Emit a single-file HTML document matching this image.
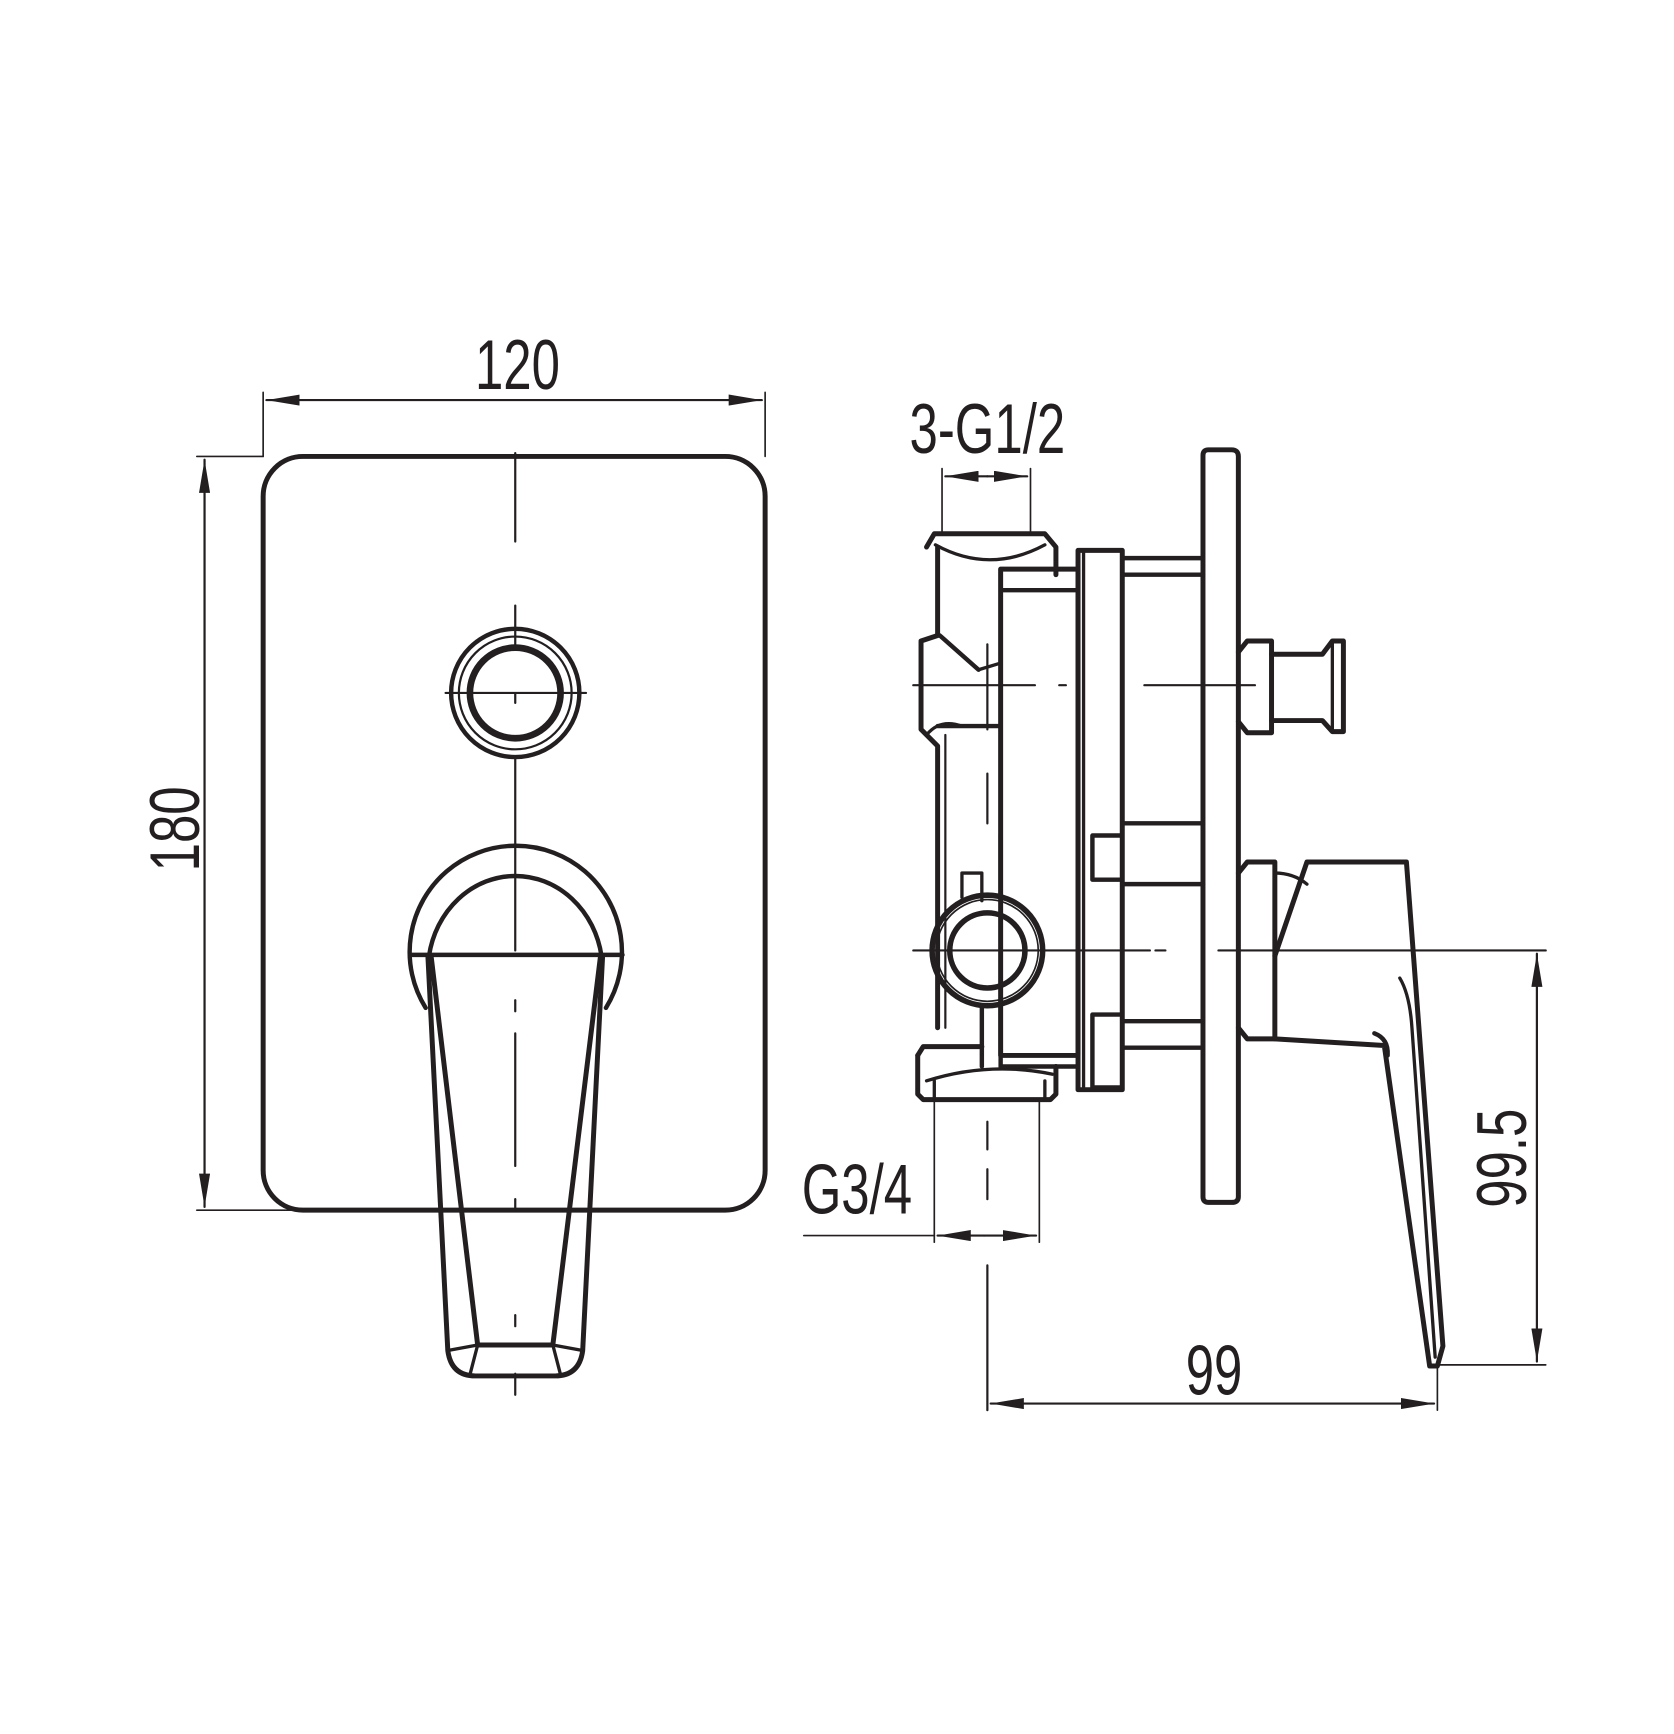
<!DOCTYPE html>
<html><head><style>
html,body{margin:0;padding:0;background:#fff;}
svg{display:block;}
text{font-family:"Liberation Sans",sans-serif;fill:#231f20;}
</style></head><body>
<svg width="1674" height="1734" viewBox="0 0 1514 1569" preserveAspectRatio="none" xmlns="http://www.w3.org/2000/svg">
<defs>
<marker id="a" viewBox="0 0 30 10" refX="30" refY="5" markerWidth="30" markerHeight="10" markerUnits="userSpaceOnUse" orient="auto-start-reverse"><path d="M0,0 L30,5 L0,10 Z" fill="#231f20"/></marker>
</defs>
<g stroke="#231f20" fill="none" stroke-linecap="round" stroke-linejoin="round">
<rect x="238" y="413" width="454" height="682" rx="36" stroke-width="4.5"/>
<line x1="238" y1="355" x2="238" y2="413" stroke-width="1.5"/>
<line x1="692" y1="355" x2="692" y2="413" stroke-width="1.5"/>
<line x1="241" y1="362" x2="689" y2="362" stroke-width="2" marker-start="url(#a)" marker-end="url(#a)"/>
<line x1="178" y1="413" x2="238" y2="413" stroke-width="1.5"/>
<line x1="178" y1="1095" x2="400" y2="1095" stroke-width="1.5"/>
<line x1="185" y1="416" x2="185" y2="1092" stroke-width="2" marker-start="url(#a)" marker-end="url(#a)"/>
<line x1="466" y1="410" x2="466" y2="490" stroke-width="2"/>
<line x1="466" y1="548" x2="466" y2="587" stroke-width="2"/>
<line x1="466" y1="628" x2="466" y2="636" stroke-width="2"/>
<line x1="466" y1="685" x2="466" y2="860" stroke-width="2"/>
<line x1="466" y1="905" x2="466" y2="915" stroke-width="2"/>
<line x1="466" y1="935" x2="466" y2="1055" stroke-width="2"/>
<line x1="466" y1="1085" x2="466" y2="1095" stroke-width="2"/>
<line x1="466" y1="1190" x2="466" y2="1200" stroke-width="2"/>
<line x1="466" y1="1243" x2="466" y2="1262" stroke-width="2"/>
<circle cx="466" cy="627" r="58" stroke-width="4"/>
<circle cx="466" cy="627" r="51" stroke-width="2"/>
<circle cx="466" cy="627" r="41" stroke-width="6"/>
<line x1="403" y1="627" x2="530" y2="627" stroke-width="2"/>
<path d="M385,912 A96,96 0 1 1 548,912" stroke-width="4"/>
<path d="M388,865 A79,86 0 0 1 544,865" stroke-width="4"/>
<line x1="372" y1="864" x2="563" y2="864" stroke-width="4"/>
<path d="M387,865 L405,1222 Q408,1245 430,1245 L502,1245 Q524,1245 527,1222 L545,865" stroke-width="4.5"/>
<path d="M390,866 L432,1217 L500,1217 L543,866" stroke-width="4.5"/>
<path d="M405,1222 L432,1217 L425,1244 M527,1222 L500,1217 L507,1244" stroke-width="3"/>

<path d="M1088,412 Q1088,407 1093,407 L1114,407 Q1120,407 1120,413 L1120,1083 Q1120,1088 1114,1088 L1093,1088 Q1088,1088 1088,1083 Z" stroke-width="4.5"/>
<rect x="975" y="498" width="40" height="488" stroke-width="4.5"/>
<line x1="980" y1="498" x2="980" y2="986" stroke-width="3"/>
<rect x="905" y="515" width="70" height="440" stroke-width="4.5"/>
<line x1="905" y1="534" x2="975" y2="534" stroke-width="4"/>
<line x1="1015" y1="505" x2="1088" y2="505" stroke-width="4"/>
<line x1="1015" y1="520" x2="1088" y2="520" stroke-width="4"/>
<line x1="1015" y1="745" x2="1088" y2="745" stroke-width="4"/>
<line x1="1015" y1="800" x2="1088" y2="800" stroke-width="4"/>
<line x1="1015" y1="924" x2="1088" y2="924" stroke-width="4"/>
<line x1="1015" y1="948" x2="1088" y2="948" stroke-width="4"/>
<rect x="988" y="756" width="27" height="40" stroke-width="4"/>
<rect x="988" y="918" width="27" height="66" stroke-width="4"/>
<path d="M838,495 L845,483 L945,483 L955,495 L955,520" stroke-width="4.5"/>
<path d="M846,493 Q895,520 945,493" stroke-width="3"/>
<line x1="848" y1="495" x2="848" y2="575" stroke-width="4.5"/>
<path d="M848,575 L833,580 L833,660 L848,675 L848,930" stroke-width="4.5"/>
<line x1="850" y1="575" x2="885" y2="606" stroke-width="4"/>
<line x1="885" y1="606" x2="905" y2="600" stroke-width="3"/>
<line x1="848" y1="657" x2="905" y2="657" stroke-width="4"/>
<path d="M838,665 Q850,650 870,657" stroke-width="3"/>
<line x1="855" y1="665" x2="855" y2="930" stroke-width="2"/>
<circle cx="893" cy="860" r="50" stroke-width="5"/>
<circle cx="893" cy="860" r="46" stroke-width="1.5"/>
<circle cx="893" cy="860" r="34" stroke-width="5"/>
<path d="M870,812 L870,790 L888,790 L888,815" stroke-width="3"/>
<line x1="905" y1="755" x2="905" y2="815" stroke-width="4"/>
<line x1="888" y1="910" x2="888" y2="965" stroke-width="4"/>
<line x1="905" y1="905" x2="905" y2="965" stroke-width="4"/>
<path d="M830,955 L835,947 L888,947" stroke-width="4.5"/>
<path d="M830,955 L830,990 L835,995 L950,995 L955,990 L955,965" stroke-width="4.5"/>
<path d="M838,978 Q895,960 952,972" stroke-width="3"/>
<line x1="845" y1="978" x2="845" y2="995" stroke-width="3"/>
<line x1="945" y1="978" x2="945" y2="995" stroke-width="3"/>
<line x1="905" y1="965" x2="975" y2="965" stroke-width="4"/>
<path d="M1120,590 L1128,580 L1150,580 L1150,663 L1128,663 L1120,653" stroke-width="4.5"/>
<path d="M1150,592 L1196,592 L1205,580 L1215,580 L1215,662 L1205,662 L1196,652 L1150,652" stroke-width="4.5"/>
<line x1="1205" y1="580" x2="1205" y2="662" stroke-width="3"/>
<path d="M1120,790 L1128,780 L1153,780 L1153,940 L1128,940 L1120,930" stroke-width="4.5"/>
<path d="M1153,790 Q1170,790 1182,800" stroke-width="3"/>
<path d="M1153,865 L1182,780 L1272,780 L1305,1218 L1300,1236 L1293,1236 L1252,946 L1153,940" stroke-width="4.5"/>
<path d="M1266,885 Q1275,900 1277,930 L1298,1228" stroke-width="3"/>
<path d="M1243,935 Q1256,940 1255,955" stroke-width="4"/>
<line x1="826" y1="620" x2="936" y2="620" stroke-width="2"/>
<line x1="958" y1="620" x2="964" y2="620" stroke-width="2"/>
<line x1="1035" y1="620" x2="1135" y2="620" stroke-width="2"/>
<line x1="826" y1="860" x2="1040" y2="860" stroke-width="2"/>
<line x1="1045" y1="860" x2="1054" y2="860" stroke-width="2"/>
<line x1="1102" y1="860" x2="1398" y2="860" stroke-width="2"/>
<line x1="893" y1="583" x2="893" y2="660" stroke-width="2"/>
<line x1="893" y1="700" x2="893" y2="745" stroke-width="2"/>
<line x1="893" y1="1015" x2="893" y2="1040" stroke-width="2"/>
<line x1="893" y1="1058" x2="893" y2="1085" stroke-width="2"/>
<line x1="893" y1="1145" x2="893" y2="1276" stroke-width="2"/>
<line x1="852" y1="424" x2="852" y2="483" stroke-width="1.5"/>
<line x1="932" y1="424" x2="932" y2="483" stroke-width="1.5"/>
<line x1="855" y1="431" x2="893" y2="431" stroke-width="2" marker-start="url(#a)"/>
<line x1="893" y1="431" x2="929" y2="431" stroke-width="2" marker-end="url(#a)"/>
<line x1="845" y1="997" x2="845" y2="1124" stroke-width="1.5"/>
<line x1="940" y1="997" x2="940" y2="1124" stroke-width="1.5"/>
<line x1="727" y1="1118" x2="845" y2="1118" stroke-width="1.5"/>
<line x1="848" y1="1118" x2="890" y2="1118" stroke-width="2" marker-start="url(#a)"/>
<line x1="890" y1="1118" x2="937" y2="1118" stroke-width="2" marker-end="url(#a)"/>
<line x1="1300" y1="1238" x2="1300" y2="1276" stroke-width="1.5"/>
<line x1="896" y1="1270" x2="1297" y2="1270" stroke-width="2" marker-start="url(#a)" marker-end="url(#a)"/>
<line x1="1300" y1="1235" x2="1398" y2="1235" stroke-width="1.5"/>
<line x1="1390" y1="863" x2="1390" y2="1232" stroke-width="2" marker-start="url(#a)" marker-end="url(#a)"/>
</g>
<g font-size="64">
<text transform="translate(468,352) scale(0.72,1)" text-anchor="middle">120</text>
<text transform="translate(180,750) rotate(-90) scale(0.72,1)" text-anchor="middle">180</text>
<text transform="translate(893,410) scale(0.72,1)" text-anchor="middle">3-G1/2</text>
<text transform="translate(775,1098) scale(0.72,1)" text-anchor="middle">G3/4</text>
<text transform="translate(1098,1262) scale(0.72,1)" text-anchor="middle">99</text>
<text transform="translate(1380,1048) rotate(-90) scale(0.72,1)" text-anchor="middle">99.5</text>
</g>
</svg>
</body></html>
